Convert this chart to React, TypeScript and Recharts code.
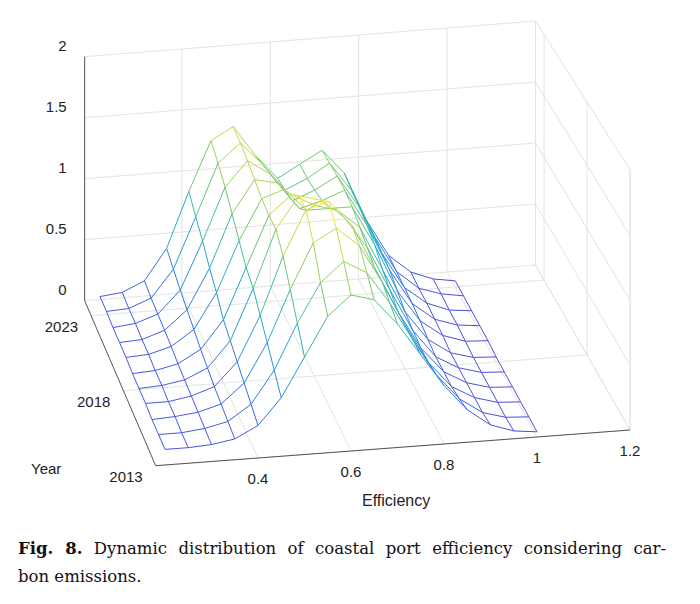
import { LineChart, Line, XAxis, YAxis } from 'recharts';

// efficiency grid and kernel density estimates per year
const efficiency = [0.2, 0.25, 0.3, 0.35, 0.4, 0.45, 0.5, 0.55, 0.6, 0.65, 0.7, 0.75, 0.8, 0.85, 0.9, 0.95, 1.0];
const years = [2013, 2014, 2015, 2016, 2017, 2018, 2019, 2020, 2021, 2022, 2023];
const density2013 = [0.12, 0.12, 0.13, 0.16, 0.25, 0.45, 0.75, 1.05, 1.2, 1.15, 0.95, 0.7, 0.45, 0.25, 0.12, 0.06, 0.04];
const density2014 = [0.12, 0.12, 0.14, 0.18, 0.3, 0.55, 0.9, 1.2, 1.35, 1.25, 1.0, 0.7, 0.42, 0.22, 0.1, 0.05, 0.04];
const density2015 = [0.12, 0.13, 0.15, 0.2, 0.35, 0.65, 1.05, 1.4, 1.5, 1.35, 1.05, 0.7, 0.4, 0.2, 0.1, 0.05, 0.04];
const density2016 = [0.13, 0.13, 0.16, 0.22, 0.4, 0.75, 1.2, 1.55, 1.6, 1.4, 1.05, 0.7, 0.4, 0.2, 0.1, 0.05, 0.04];
const density2017 = [0.13, 0.14, 0.17, 0.25, 0.45, 0.85, 1.3, 1.55, 1.5, 1.35, 1.1, 0.75, 0.42, 0.2, 0.1, 0.05, 0.04];
const density2018 = [0.13, 0.14, 0.18, 0.28, 0.5, 0.9, 1.3, 1.45, 1.35, 1.3, 1.15, 0.8, 0.45, 0.22, 0.1, 0.05, 0.04];
const density2019 = [0.14, 0.15, 0.2, 0.32, 0.6, 1.0, 1.32, 1.38, 1.2, 1.2, 1.2, 0.88, 0.5, 0.25, 0.12, 0.06, 0.05];
const density2020 = [0.14, 0.15, 0.21, 0.36, 0.68, 1.1, 1.36, 1.32, 1.1, 1.15, 1.22, 0.92, 0.55, 0.27, 0.13, 0.07, 0.05];
const density2021 = [0.14, 0.16, 0.22, 0.4, 0.78, 1.2, 1.4, 1.28, 1.05, 1.12, 1.22, 0.95, 0.57, 0.28, 0.14, 0.07, 0.05];
const density2022 = [0.15, 0.16, 0.23, 0.45, 0.86, 1.28, 1.43, 1.24, 1.02, 1.1, 1.21, 0.97, 0.59, 0.29, 0.14, 0.08, 0.05];
const density2023 = [0.15, 0.17, 0.25, 0.5, 0.95, 1.35, 1.45, 1.2, 1.0, 1.1, 1.2, 1.0, 0.6, 0.3, 0.15, 0.08, 0.05];
const densities = [density2013, density2014, density2015, density2016, density2017, density2018,
  density2019, density2020, density2021, density2022, density2023];

const zTicks = [0, 0.5, 1, 1.5, 2];
const zTickLabels = ['0', '0.5', '1', '1.5', '2'];
const effTicks = [0.4, 0.6, 0.8, 1.0, 1.2];
const effTickLabels = ['0.4', '0.6', '0.8', '1', '1.2'];
const yearTicks = [2013, 2018, 2023];

const E0 = 0.18, E1 = 1.2, Y0 = 2013, Y1 = 2024, Z1 = 2;

// simple oblique projection with a little perspective
function proj(e: number, yr: number, z: number) {
  const t = (yr - Y0) / (Y1 - Y0);
  const sx = 465 - 23 * t;
  const sz = 130 - 8 * t;
  return {
    x: 165 + (e - 0.2) * sx - 6.5 * (yr - Y0),
    y: 465 - 35 * (e - 0.2) - 15 * (yr - Y0) - z * sz,
  };
}

const stops = [[0, [83, 70, 214]], [0.25, [50, 120, 235]], [0.5, [30, 175, 200]], [0.75, [120, 200, 110]], [1, [245, 225, 50]]] as const;
function parula(v: number) {
  const c = Math.max(0, Math.min(1, v));
  for (let i = 1; i < stops.length; i++) {
    if (c <= stops[i][0]) {
      const [a0, ca] = stops[i - 1];
      const [a1, cb] = stops[i];
      const f = (c - a0) / (a1 - a0);
      const m = ca.map((v0, k) => Math.round(v0 + (cb[k] - v0) * f));
      return `rgb(${m[0]},${m[1]},${m[2]})`;
    }
  }
  return 'rgb(245,225,50)';
}

type Seg = { pts: { x: number; y: number }[]; color: string; width: number };

const grid: Seg[] = [];
const gridColor = '#e3e3e3';
const edgeColor = '#555';
const g = (a: { x: number; y: number }, b: { x: number; y: number }, color = gridColor) =>
  grid.push({ pts: [a, b], color, width: 1 });
// back wall
zTicks.forEach((z) => g(proj(E0, Y1, z), proj(E1, Y1, z)));
effTicks.forEach((e) => g(proj(e, Y1, 0), proj(e, Y1, Z1)));
// right wall
zTicks.forEach((z) => g(proj(E1, Y0, z), proj(E1, Y1, z)));
yearTicks.forEach((y) => g(proj(E1, y, 0), proj(E1, y, Z1)));
g(proj(E1, Y0, 0), proj(E1, Y0, Z1));
g(proj(E1, Y1, 0), proj(E1, Y1, Z1));
g(proj(E0, Y1, 0), proj(E0, Y1, Z1));
// floor
effTicks.forEach((e) => g(proj(e, Y0, 0), proj(e, Y1, 0)));
yearTicks.forEach((y) => g(proj(E0, y, 0), proj(E1, y, 0)));
// axes edges
g(proj(E0, Y0, 0), proj(E1, Y0, 0), edgeColor);
g(proj(E0, Y0, 0), proj(E0, Y1, 0), edgeColor);
g(proj(E0, Y1, 0), proj(E0, Y1, Z1), edgeColor);

const mesh: Seg[] = [];
for (let yi = years.length - 1; yi >= 0; yi--) {
  for (let ei = 0; ei < efficiency.length - 1; ei++) {
    const z0 = densities[yi][ei], z1 = densities[yi][ei + 1];
    mesh.push({ pts: [proj(efficiency[ei], years[yi], z0), proj(efficiency[ei + 1], years[yi], z1)], color: parula((z0 + z1) / 3.1), width: 1 });
    if (yi > 0) {
      const w0 = densities[yi - 1][ei];
      mesh.push({ pts: [proj(efficiency[ei], years[yi], z0), proj(efficiency[ei], years[yi - 1], w0)], color: parula((z0 + w0) / 3.1), width: 1 });
    }
  }
  if (yi > 0) {
    const last = efficiency.length - 1;
    const z0 = densities[yi][last], w0 = densities[yi - 1][last];
    mesh.push({ pts: [proj(efficiency[last], years[yi], z0), proj(efficiency[last], years[yi - 1], w0)], color: parula((z0 + w0) / 3.1), width: 1 });
  }
}

const label = { position: 'absolute' as const, fontFamily: '"Liberation Sans", Arial, sans-serif', fontSize: 15, color: '#222' };
const noDot = () => null;

export default function App() {
  const segs = [...grid, ...mesh];
  return (
    <div style={{ position: 'fixed', left: 0, top: 0, width: 700, height: 604, background: '#fff' }}>
      <LineChart width={700} height={604} margin={{ top: 0, right: 0, bottom: 0, left: 0 }}>
        <XAxis type="number" dataKey="x" domain={[0, 700]} hide allowDataOverflow />
        <YAxis type="number" domain={[0, 604]} reversed hide allowDataOverflow />
        {segs.map((s, i) => (
          <Line key={i} data={s.pts} dataKey="y" stroke={s.color} strokeWidth={s.width}
            dot={noDot} activeDot={false} isAnimationActive={false} />
        ))}
      </LineChart>
      {zTicks.map((z, i) => {
        const p = proj(E0, Y1, z);
        return <div key={'z' + i} style={{ ...label, left: p.x - 58, top: p.y - 20, width: 40, textAlign: 'right' }}>{zTickLabels[i]}</div>;
      })}
      {effTicks.map((e, i) => {
        const p = proj(e, Y0, 0);
        return <div key={'e' + i} style={{ ...label, left: p.x - 20, top: p.y + 12, width: 40, textAlign: 'center' }}>{effTickLabels[i]}</div>;
      })}
      {yearTicks.map((y) => {
        const p = proj(E0, y, 0);
        return <div key={'y' + y} style={{ ...label, left: p.x - 58, top: p.y + 2, width: 45, textAlign: 'right' }}>{y}</div>;
      })}
      <div style={{ ...label, left: 31, top: 460 }}>Year</div>
      <div style={{ ...label, left: 362, top: 492, fontSize: 16 }}>Efficiency</div>
      <div style={{ position: 'absolute', left: 18, top: 535, width: 648, fontFamily: '"DejaVu Serif", serif', fontSize: 16.5, lineHeight: '28px', color: '#111' }}>
        <div style={{ textAlign: 'justify', textAlignLast: 'justify' }}><b>Fig. 8.</b> Dynamic distribution of coastal port efficiency considering car-</div>
        <div>bon emissions.</div>
      </div>
    </div>
  );
}
